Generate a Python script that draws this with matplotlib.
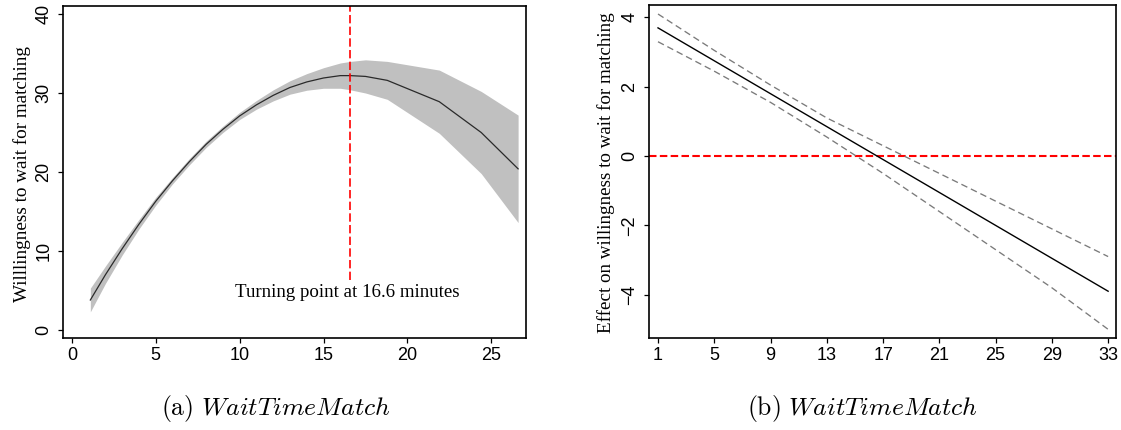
import matplotlib
matplotlib.use("Agg")
import matplotlib.pyplot as plt

plt.rcParams['mathtext.fontset'] = 'cm'

# ---- Panel (a) data: predicted willingness vs wait time ----
wait_a = [1.1, 2, 3, 4, 5, 6, 7, 8, 9, 10, 11, 12, 13, 14, 15, 16, 16.6, 17.5, 18.8, 21.9, 24.4, 26.6]
pred_a = [3.8, 7.0, 10.3, 13.4, 16.3, 18.9, 21.3, 23.5, 25.4, 27.1, 28.5, 29.7, 30.7, 31.4, 31.9,
          32.2, 32.2, 32.1, 31.6, 28.9, 25.0, 20.4]
low_a = [2.3, 5.9, 9.5, 12.8, 15.8, 18.5, 20.9, 23.1, 25.0, 26.65, 27.95, 29.0, 29.85, 30.35, 30.6,
         30.6, 30.4, 30.0, 29.2, 24.9, 19.8, 13.6]
up_a = [5.3, 8.1, 11.1, 14.0, 16.8, 19.3, 21.7, 23.9, 25.8, 27.55, 29.05, 30.4, 31.55, 32.45, 33.2,
        33.8, 34.0, 34.2, 34.0, 32.9, 30.2, 27.2]
turning_point = 16.6
xticks_a = [0, 5, 10, 15, 20, 25]
yticks_a = [0, 10, 20, 30, 40]

# ---- Panel (b) data: marginal effect vs wait time ----
wait_b = [1, 5, 9, 13, 17, 21, 25, 29, 33]
eff_b = [3.7, 2.75, 1.8, 0.85, -0.1, -1.05, -2.0, -2.95, -3.9]
up_b = [4.1, 3.05, 2.05, 1.1, 0.3, -0.5, -1.3, -2.1, -2.9]
low_b = [3.3, 2.45, 1.55, 0.55, -0.5, -1.6, -2.7, -3.8, -5.0]
xticks_b = [1, 5, 9, 13, 17, 21, 25, 29, 33]
yticks_b = [-4, -2, 0, 2, 4]

W, H = 1121, 430
fig = plt.figure(figsize=(W / 100, H / 100), dpi=100)

def px_axes(x0, x1, y0, y1):
    return fig.add_axes([x0 / W, 1 - y1 / H, (x1 - x0) / W, (y1 - y0) / H])

ax1 = px_axes(63, 526, 5.7, 338)
ax2 = px_axes(649, 1116, 5, 338)

sans = 'Liberation Sans'
serif = 'Liberation Serif'

for ax in (ax1, ax2):
    for sp in ax.spines.values():
        sp.set_linewidth(1.2)
        sp.set_color('black')
    ax.tick_params(axis='both', direction='out', length=3.8, width=0.9, labelsize=13, pad=3)
    ax.tick_params(axis='y', pad=4)

# Panel (a)
ax1.fill_between(wait_a, low_a, up_a, color='#c0c0c0', linewidth=0)
ax1.plot(wait_a, pred_a, color='#2a2a2a', linewidth=0.9)
ax1.plot([turning_point, turning_point], [6.3, 41.05], color='#ff0000', linewidth=1.2,
         linestyle=(0, (5, 2)))
ax1.text(16.43, 4.77, 'Turning point at 16.6 minutes', family=serif, fontsize=13.6,
         ha='center', va='center')
ax1.set_xlim(-0.53, 27.07)
ax1.set_ylim(-1.01, 41.05)
ax1.set_xticks(xticks_a)
ax1.set_yticks(yticks_a)
ax1.set_yticklabels([str(v) for v in yticks_a], rotation=90, va='center', family=sans)
ax1.set_xticklabels([str(v) for v in xticks_a], family=sans)

# Panel (b)
ax2.axhline(0, color='#ff0000', linewidth=1.5, linestyle=(0, (3.6, 1.6)))
ax2.plot(wait_b, up_b, color='#7a7a7a', linewidth=0.95, linestyle=(0, (5, 3)))
ax2.plot(wait_b, low_b, color='#7a7a7a', linewidth=0.95, linestyle=(0, (5, 3)))
ax2.plot(wait_b, eff_b, color='black', linewidth=1.0)
ax2.set_xlim(0.36, 33.56)
ax2.set_ylim(-5.25, 4.36)
ax2.set_xticks(xticks_b)
ax2.set_yticks(yticks_b)
ax2.set_yticklabels([str(v).replace('-', '\u2212') for v in yticks_b], rotation=90, va='center',
                    family=sans)
ax2.set_xticklabels([str(v) for v in xticks_b], family=sans)

# y labels
fig.text(22 / W, 1 - 174 / H, 'Willlingness to wait for matching', rotation=90, family=serif,
         fontsize=13.8, ha='center', va='center')
fig.text(606 / W, 1 - 173 / H, 'Effect on willingness to wait for matching', rotation=90,
         family=serif, fontsize=13.7, ha='center', va='center')

# captions
fig.text(276 / W, 1 - 408 / H, r'$\mathrm{(a)}\ WaitTimeMatch$', fontsize=18.5,
         ha='center', va='center')
fig.text(862 / W, 1 - 408 / H, r'$\mathrm{(b)}\ WaitTimeMatch$', fontsize=18.5,
         ha='center', va='center')

fig.savefig('out.png', dpi=100)
